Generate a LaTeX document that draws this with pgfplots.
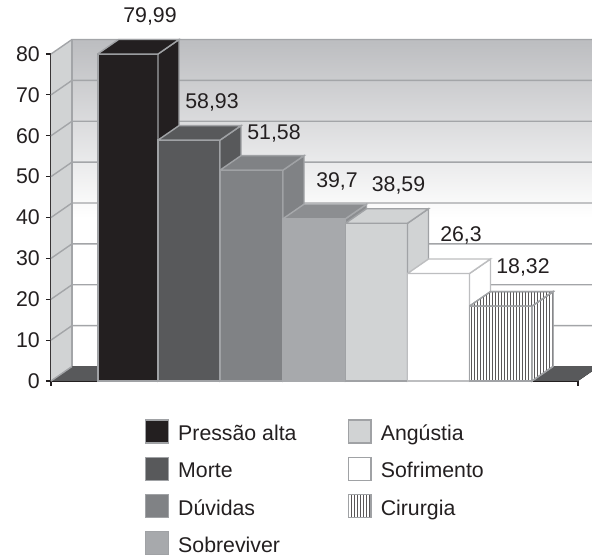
\documentclass[border=0pt]{standalone}
\usepackage{fontspec}
\setmainfont{Liberation Sans}
\usepackage{pgfplots}
\pgfplotsset{compat=1.18}
\usetikzlibrary{patterns}
\definecolor{edge}{HTML}{A0A2A5}
\definecolor{gridc}{HTML}{A3A5A8}
\definecolor{cA}{HTML}{231F20}
\definecolor{cB}{HTML}{58595B}
\definecolor{cC}{HTML}{808285}
\definecolor{cD}{HTML}{A7A9AC}
\definecolor{cE}{HTML}{D1D3D4}
\definecolor{ink}{HTML}{231F20}
\newcommand{\lfont}{\fontsize{21.3}{24}\selectfont}
\pgfplotsset{swatch/.style={legend image code/.code={\draw[##1,line width=1.4pt] (0.7pt,-2.5pt) rectangle (23.3pt,20.5pt);\path (33pt,0pt);}}}
% side and top of one bar: #1 style, #2 x0, #3 x1, #4 x0+21, #5 x1+21, #6 value, #7 value+depth
\newcommand{\threeD}[7]{%
  \addplot[forget plot,#1,line width=1.4pt,line join=miter] coordinates {(#3,#6)(#5,#7)(#5,3.55)(#3,0)(#3,#6)};
  \addplot[forget plot,#1,line width=1.4pt,line join=miter] coordinates {(#2,#6)(#4,#7)(#5,#7)(#3,#6)(#2,#6)};
}
\begin{document}
\begin{tikzpicture}
\path[use as bounding box] (-51pt,-175pt) rectangle (541pt,381pt);
\begin{axis}[
  scale only axis, width=527pt, height=327pt,
  xmin=0, xmax=527, ymin=0, ymax=80,
  clip=false,
  axis lines=left, axis line style={-,draw=ink,line width=1.2pt},
  xtick={0,527}, xticklabels={,},
  ytick={0,10,...,80},
  tick align=outside, major tick length=5pt,
  tick style={draw=ink,line width=1.2pt},
  /pgf/number format/assume math mode=true,
  yticklabel style={font=\lfont,text=ink,inner sep=0pt,xshift=-6pt},
  legend columns=2,
  legend style={at={(axis cs:94,-9.4)},anchor=north west,draw=none,fill=none,inner sep=0pt,outer sep=0pt,
    font=\lfont,text=ink,
    /tikz/every even column/.append style={column sep=51pt},
    /tikz/row sep=11pt,
    nodes={inner sep=0pt,text height=16pt,text depth=5pt,anchor=base west}},
  legend cell align=left,
]
% walls
\shade[top color={rgb,255:red,188;green,189;blue,192},bottom color=white] (axis cs:21,40) rectangle (axis cs:541,83.55);
\fill[cE] (axis cs:0,0) -- (axis cs:21,3.55) -- (axis cs:21,83.55) -- (axis cs:0,80) -- cycle;
\fill[left color=cB,middle color=cC!85!black,right color=cB] (axis cs:0,0) -- (axis cs:21,3.55) -- (axis cs:541,3.55) -- (axis cs:541,2.37) -- (axis cs:527,0) -- cycle;
% grid
\foreach \v/\w in {10/13.55,20/23.55,30/33.55,40/43.55,50/53.55,60/63.55,70/73.55,80/83.55}{
  \edef\tmp{\noexpand\draw[gridc,line width=1.4pt] (axis cs:0,\v) -- (axis cs:21,\w) -- (axis cs:541,\w);}\tmp
}
\draw[gridc,line width=1.4pt] (axis cs:21,3.55) -- (axis cs:21,83.55);
\draw[gridc,line width=1.4pt] (axis cs:0,0) -- (axis cs:21,3.55);
% legend entries
\addlegendimage{swatch,fill=cA,draw=edge}\addlegendentry{Pressão alta}
\addlegendimage{swatch,fill=cE,draw=edge}\addlegendentry{Angústia}
\addlegendimage{swatch,fill=cB,draw=edge}\addlegendentry{Morte}
\addlegendimage{swatch,fill=white,draw=edge}\addlegendentry{Sofrimento}
\addlegendimage{swatch,fill=cC,draw=edge}\addlegendentry{Dúvidas}
\addlegendimage{swatch,preaction={fill=white},pattern=vertical lines,pattern color=ink!75,draw=edge}\addlegendentry{Cirurgia}
\addlegendimage{swatch,fill=cD,draw=edge}\addlegendentry{Sobreviver}
% bars, left to right
\addplot[forget plot,ybar,bar shift=0pt,bar width=61pt,fill=cA,draw=edge,line width=1.4pt] coordinates {(77.5,79.99)};
\threeD{fill=cA,draw=edge}{46.5}{107}{67.5}{128}{79.99}{83.54}
\addplot[forget plot,ybar,bar shift=0pt,bar width=62pt,fill=cB,draw=edge,line width=1.4pt] coordinates {(138,58.93)};
\threeD{fill=cB,draw=edge}{107}{169}{128}{190}{58.93}{62.48}
\addplot[forget plot,ybar,bar shift=0pt,bar width=63pt,fill=cC,draw=edge,line width=1.4pt] coordinates {(200.5,51.58)};
\threeD{fill=cC,draw=edge}{169}{232}{190}{253}{51.58}{55.13}
\addplot[forget plot,ybar,bar shift=0pt,bar width=62.5pt,fill=cD,draw=cD,line width=1.4pt] coordinates {(263.25,39.7)};
\threeD{fill=cC!70!cD,draw=cD}{232}{294.5}{253}{315.5}{39.7}{43.25}
\addplot[forget plot,ybar,bar shift=0pt,bar width=62pt,fill=cE,draw=edge,line width=1.4pt] coordinates {(325.5,38.59)};
\threeD{fill=cE,draw=edge}{294.5}{356.5}{315.5}{377.5}{38.59}{42.14}
\addplot[forget plot,ybar,bar shift=0pt,bar width=62pt,fill=white,draw=edge!70,line width=1.4pt] coordinates {(387.5,26.3)};
\threeD{fill=white,draw=edge!70}{356.5}{418.5}{377.5}{439.5}{26.3}{29.85}
\addplot[forget plot,ybar,bar shift=0pt,bar width=62.5pt,preaction={fill=white},pattern=vertical lines,pattern color=ink!75,draw=edge,line width=1.4pt] coordinates {(449.75,18.32)};
\threeD{preaction={fill=white},pattern=vertical lines,pattern color=ink!75,draw=edge}{418.5}{481}{439.5}{502}{18.32}{21.87}
% value labels
\foreach \x/\y/\t in {99/89.55/{79,99},161/68.45/{58,93},223/60.95/{51,58},286/49.15/{39,7},347.5/48.25/{38,59},410/35.95/{26,3},472/28.15/{18,32}}{
  \edef\tmp{\noexpand\node[font=\noexpand\lfont,text=ink,inner sep=0pt,text height=14.5pt,text depth=0pt] at (axis cs:\x,\y) {\t};}\tmp
}
\end{axis}
\end{tikzpicture}
\end{document}
